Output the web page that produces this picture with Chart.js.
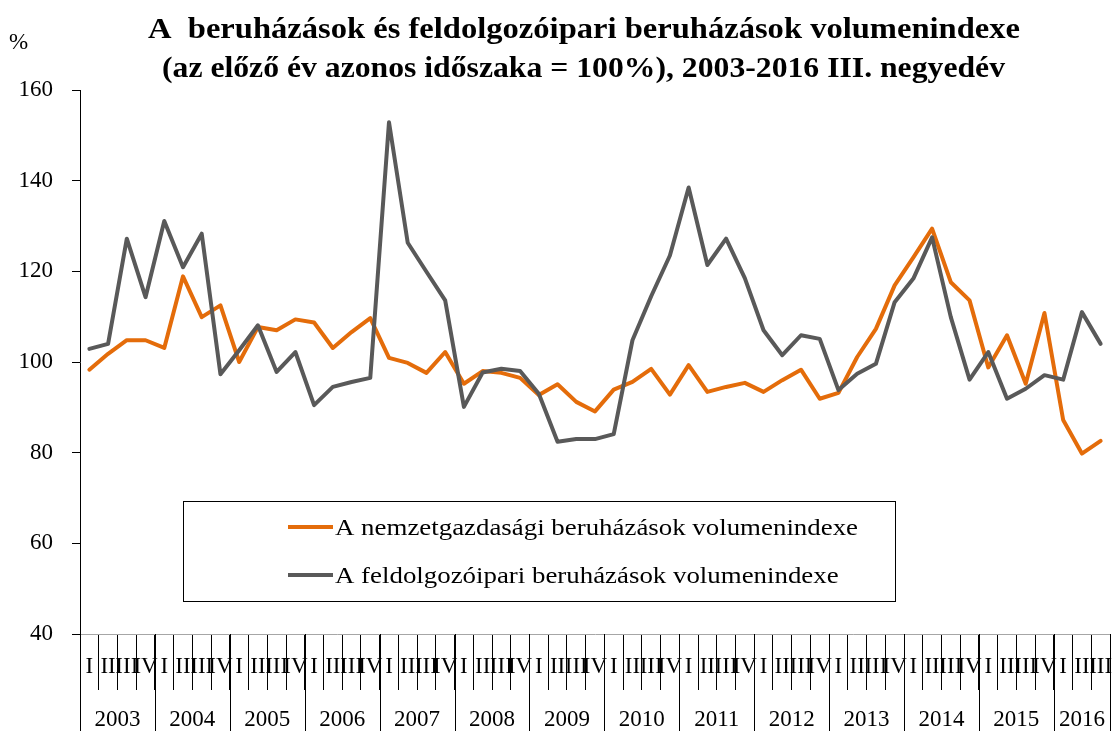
<!DOCTYPE html>
<html>
<head>
<meta charset="utf-8">
<script src="https://cdn.jsdelivr.net/npm/chart.js@4"></script>
<style>
html,body{margin:0;padding:0;background:#fff;}
canvas{display:block;}
</style>
</head>
<body>
<canvas id="c" width="1114" height="731"></canvas>
<script>
const years = [2003,2004,2005,2006,2007,2008,2009,2010,2011,2012,2013,2014,2015,2016];
const quarterNames = ["I","II","III","IV"];
const quartersInLastYear = 3;
const yTicks = [40,60,80,100,120,140,160];
const titleLines = [
  "A  beruházások és feldolgozóipari beruházások volumenindexe",
  "(az előző év azonos időszaka = 100%), 2003-2016 III. negyedév"
];
const seriesNames = [
  "A nemzetgazdasági beruházások volumenindexe",
  "A feldolgozóipari beruházások volumenindexe"
];
const unitLabel = "%";

// A nemzetgazdasági beruházások volumenindexe (orange)
const nationalIndex = [
  98.3,101.8,104.8,104.8,
  103.1,118.9,109.9,112.5,
  100.0,107.7,107.0,109.4,
  108.7,103.1,106.6,109.7,
  100.9,99.8,97.6,102.2,
  95.2,98.0,97.6,96.5,
  92.7,95.1,91.2,89.1,
  93.9,95.6,98.5,92.8,
  99.3,93.4,94.5,95.4,
  93.4,96.0,98.3,91.9,
  93.2,101.1,107.3,116.9,
  123.1,129.4,117.6,113.6,
  98.8,105.9,95.2,110.8,
  87.2,79.8,82.6
];
// A feldolgozóipari beruházások volumenindexe (grey)
const manufacturingIndex = [
  102.9,104.0,127.2,114.3,
  131.1,120.9,128.3,97.3,
  102.6,108.1,97.8,102.2,
  90.5,94.5,95.6,96.5,
  152.9,126.3,119.9,113.6,
  90.1,97.7,98.5,98.0,
  93.0,82.4,83.0,83.0,
  84.1,104.8,114.5,123.5,
  138.5,121.4,127.2,118.5,
  107.0,101.5,105.9,105.1,
  93.8,97.4,99.6,113.2,
  118.4,127.5,109.9,96.1,
  102.2,91.9,94.1,97.1,
  96.1,111.0,104.0
];

const categoryLabels = [];
const categoryYears = [];
years.forEach((yr, yi) => {
  const n = yi === years.length - 1 ? quartersInLastYear : quarterNames.length;
  for (let q = 0; q < n; q++) { categoryLabels.push(quarterNames[q]); categoryYears.push(yr); }
});

const SERIF = "'Liberation Serif', 'Times New Roman', serif";

// draw text horizontally stretched by factor sx (to mimic a wider book face)
function stretchedText(ctx, text, x, y, sx, align) {
  const w = ctx.measureText(text).width * sx;
  let left = x;
  if (align === 'center') left = x - w / 2;
  else if (align === 'right') left = x - w;
  ctx.save();
  ctx.textAlign = 'left';
  ctx.translate(left, y);
  ctx.scale(sx, 1);
  ctx.fillText(text, 0, 0);
  ctx.restore();
}

const decor = {
  id: 'decor',
  afterDraw(chart) {
    const ctx = chart.ctx;
    const xs = chart.scales.x;
    const area = chart.chartArea;
    const H = chart.height;
    ctx.save();
    ctx.fillStyle = '#000';
    ctx.textBaseline = 'alphabetic';
    // title
    ctx.font = "bold 29px " + SERIF;
    const t1 = 872 / ctx.measureText(titleLines[0]).width;
    const t2 = 843 / ctx.measureText(titleLines[1]).width;
    stretchedText(ctx, titleLines[0], 584, 38, t1, 'center');
    stretchedText(ctx, titleLines[1], 583.5, 77, t2, 'center');
    // unit
    ctx.textAlign = 'left';
    ctx.font = "23px " + SERIF;
    ctx.fillText(unitLabel, 9, 49);

    // year dividers + labels
    const half = (xs.getPixelForValue(1) - xs.getPixelForValue(0)) / 2;
    ctx.strokeStyle = '#000';
    ctx.lineWidth = 1;
    ctx.textAlign = 'center';
    ctx.font = "23px " + SERIF;
    years.forEach(yr => {
      const first = categoryYears.indexOf(yr);
      const last = categoryYears.lastIndexOf(yr);
      const x0 = xs.getPixelForValue(first) - half;
      const x1 = xs.getPixelForValue(last) + half;
      [x0, x1].forEach(x => {
        const xx = Math.round(x) + 0.5;
        ctx.beginPath(); ctx.moveTo(xx, area.bottom); ctx.lineTo(xx, H); ctx.stroke();
      });
      ctx.fillText(String(yr), (x0 + x1) / 2, 726);
    });

    // legend
    ctx.fillStyle = '#fff';
    ctx.fillRect(184, 502, 711, 99);
    ctx.strokeStyle = '#000';
    ctx.lineWidth = 1;
    ctx.strokeRect(183.5, 501.5, 712, 100);
    const rows = [527, 575];
    ctx.font = "24px " + SERIF;
    const lScale = 523 / ctx.measureText(chart.data.datasets[0].label).width;
    [0, 1].forEach((di, k) => {
      const ds = chart.data.datasets[di];
      ctx.strokeStyle = ds.borderColor;
      ctx.lineWidth = 4;
      ctx.lineCap = 'butt';
      ctx.beginPath(); ctx.moveTo(288, rows[k]); ctx.lineTo(333, rows[k]); ctx.stroke();
      ctx.fillStyle = '#000';
      stretchedText(ctx, ds.label, 335, rows[k] + 8, lScale, 'left');
    });
    ctx.restore();
  }
};

new Chart(document.getElementById('c'), {
  type: 'line',
  data: {
    labels: categoryLabels,
    datasets: [
      { label: seriesNames[0], data: nationalIndex, borderColor: '#E46C0A', backgroundColor: '#E46C0A',
        borderWidth: 4, pointRadius: 0, tension: 0, order: 2, borderJoinStyle: 'round', borderCapStyle: 'round' },
      { label: seriesNames[1], data: manufacturingIndex, borderColor: '#595959', backgroundColor: '#595959',
        borderWidth: 4, pointRadius: 0, tension: 0, order: 1, borderJoinStyle: 'round', borderCapStyle: 'round' }
    ]
  },
  options: {
    responsive: false,
    devicePixelRatio: 1,
    animation: false,
    layout: { padding: { top: 90, right: 4, left: 0, bottom: 0 } },
    plugins: { legend: { display: false }, tooltip: { enabled: false }, title: { display: false } },
    scales: {
      x: {
        type: 'category',
        offset: true,
        grid: { display: true, offset: true, drawOnChartArea: false, drawTicks: true, tickLength: 56, color: '#000', lineWidth: 1 },
        border: { display: true, color: '#a6a6a6', width: 1 },
        ticks: { autoSkip: false, maxRotation: 0, minRotation: 0, padding: -37, color: '#000', font: { family: SERIF, size: 23 } },
        afterFit(s) { s.height = 97; s.paddingLeft = 0; s.paddingRight = 0; }
      },
      y: {
        min: yTicks[0], max: yTicks[yTicks.length - 1],
        afterBuildTicks(s) { s.ticks = yTicks.map(v => ({ value: v })); },
        ticks: { padding: 19, color: '#000', font: { family: SERIF, size: 23 } },
        grid: { drawOnChartArea: false, drawTicks: true, tickLength: 8, color: '#000', lineWidth: 1 },
        border: { display: true, color: '#000', width: 1 },
        afterFit(s) { s.width = 80; s.paddingTop = 0; s.paddingBottom = 0; }
      }
    }
  },
  plugins: [decor]
});
</script>
</body>
</html>
